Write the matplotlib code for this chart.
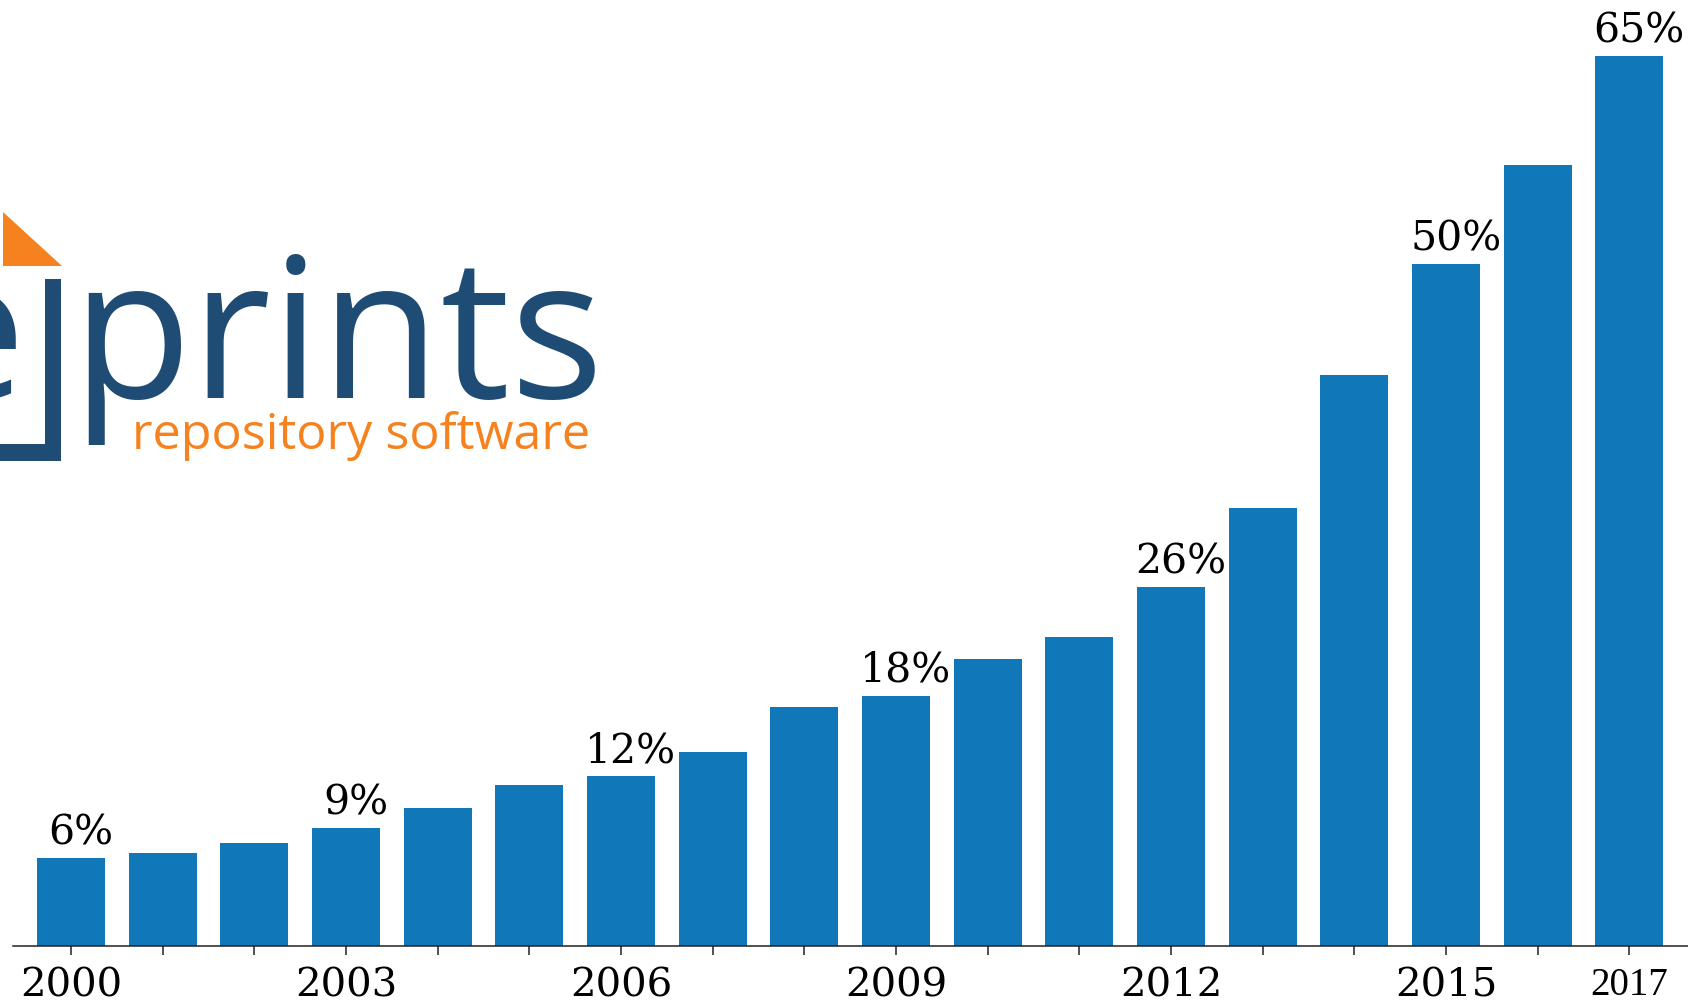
import matplotlib.pyplot as plt
from matplotlib.patches import Polygon

# 數據
years = list(range(2000, 2018))
share = [6.4, 6.8, 7.5, 8.6, 10.1, 11.8, 12.4, 14.2, 17.5, 18.3,
         21.0, 22.6, 26.2, 32.0, 41.7, 49.8, 57.1, 65.0]
label_years = [2000, 2003, 2006, 2009, 2012, 2015, 2017]

W, H = 1688, 1003
BAR = '#1078b9'
NAVY = '#1e4c74'
ORANGE = '#f5821f'


def fx(px):
    return px / W


def fy(py):
    return 1 - py / H


fig = plt.figure(figsize=(W / 100, H / 100), dpi=100)
ax = fig.add_axes([fx(13), fy(947), 1 - fx(13), 947 / H])

ax.bar(years, share, width=0.74, color=BAR)
ax.set_xlim(1999.367, 2017.64)
ax.set_ylim(0, 69.2)

# 百分比標籤
for y in label_years:
    v = share[years.index(y)]
    ax.annotate(f'{v:.0f}%', (y, v), xytext=(7, 11), textcoords='offset points',
                ha='center', va='baseline', fontsize=29.5, family='DejaVu Serif')

# 座標軸
ax.set_xticks(years)
ax.set_xticklabels([str(y) if y in label_years else '' for y in years],
                   fontsize=29, family='DejaVu Serif')
last = ax.get_xticklabels()[-1]
last.set_fontfamily('Liberation Serif')
last.set_fontsize(28)
ax.tick_params(axis='x', length=6.5, width=1.1, pad=8, color='#222222')
ax.set_yticks([])
for s in ['top', 'left', 'right']:
    ax.spines[s].set_visible(False)
ax.spines['bottom'].set_linewidth(1.1)
ax.spines['bottom'].set_color('#222222')

# logo
fig.text(fx(25), fy(398), 'e', ha='right', va='baseline', fontsize=141,
         family='Open Sans', color=NAVY)
fig.text(fx(71), fy(398), 'prints', ha='left', va='baseline', fontsize=141,
         family='Open Sans', color=NAVY)
fig.text(fx(132), fy(449), 'repository software', ha='left', va='baseline',
         fontsize=36.3, family='Open Sans', color=ORANGE)
fig.add_artist(Polygon([[fx(3), fy(213)], [fx(3), fy(267)], [fx(62), fy(267)]],
                       closed=True, transform=fig.transFigure, color=ORANGE, lw=0))
fig.add_artist(Polygon([[fx(45), fy(280)], [fx(61), fy(280)], [fx(61), fy(462)],
                        [fx(-5), fy(462)], [fx(-5), fy(445)], [fx(45), fy(445)]],
                       closed=True, transform=fig.transFigure, color=NAVY, lw=0))

fig.savefig('out.png', dpi=100)
